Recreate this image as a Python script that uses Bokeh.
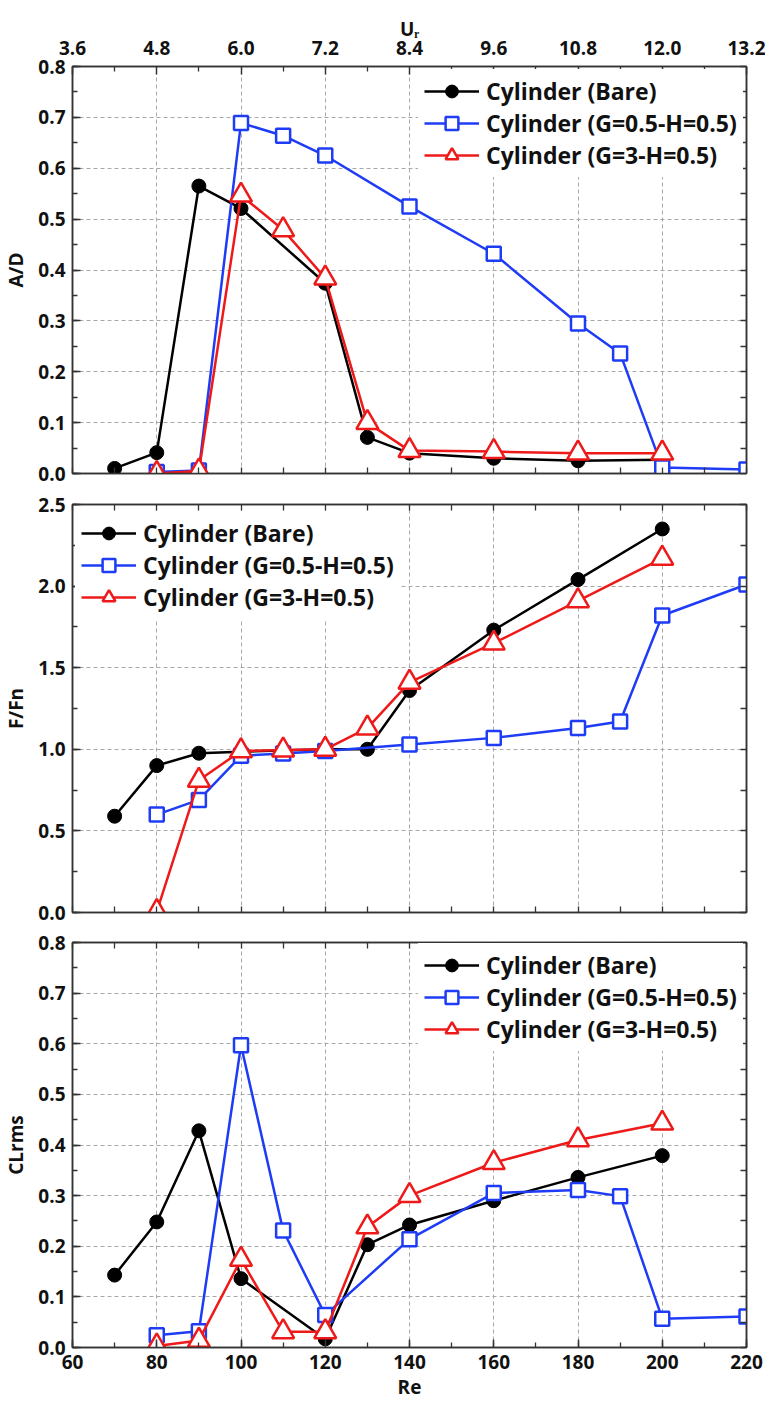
from bokeh.plotting import figure
from bokeh.layouts import column
from bokeh.models import (LinearAxis, Range1d, SingleIntervalTicker, FixedTicker,
                          PrintfTickFormatter, Legend, LegendItem)
from bokeh.embed import file_html
from bokeh.resources import INLINE

# ---------------- data ----------------
labels = ["Cylinder (Bare)", "Cylinder (G=0.5-H=0.5)", "Cylinder (G=3-H=0.5)"]

re_bare = [70, 80, 90, 100, 120, 130, 140, 160, 180, 200]
re_g05 = [80, 90, 100, 110, 120, 140, 160, 180, 190, 200, 220]
re_g3 = [80, 90, 100, 110, 120, 130, 140, 160, 180, 200]

ad_bare = [0.010, 0.041, 0.565, 0.521, 0.374, 0.071, 0.040, 0.030, 0.025, 0.027]
ad_g05 = [0.003, 0.006, 0.689, 0.664, 0.625, 0.525, 0.432, 0.295, 0.236, 0.012, 0.008]
ad_g3 = [0.000, 0.005, 0.547, 0.479, 0.384, 0.100, 0.045, 0.043, 0.040, 0.040]

ff_bare = [0.59, 0.90, 0.976, 0.985, 1.00, 1.00, 1.36, 1.73, 2.04, 2.35]
ff_g05 = [0.60, 0.69, 0.96, 0.975, 0.99, 1.03, 1.07, 1.13, 1.17, 1.82, 2.01]
ff_g3 = [0.005, 0.81, 0.99, 0.995, 1.00, 1.13, 1.41, 1.65, 1.91, 2.17]

cl_bare = [0.143, 0.248, 0.428, 0.136, 0.017, 0.203, 0.242, 0.290, 0.336, 0.379]
cl_g05 = [0.024, 0.032, 0.597, 0.231, 0.064, 0.214, 0.305, 0.311, 0.299, 0.057, 0.061]
cl_g3 = [0.003, 0.014, 0.174, 0.031, 0.031, 0.238, 0.300, 0.365, 0.410, 0.443]

ur_ticks = [3.6, 4.8, 6.0, 7.2, 8.4, 9.6, 10.8, 12.0, 13.2]

# ---------------- style ----------------
FONT = "Open Sans"
BLACK = "#000000"
BLUE = "#1e3cf5"
RED = "#ee1a1a"
AX = "#333333"
TICK_FS = "19px"
LEG_FS = "23px"
W = 765
X0, X1 = 60, 220


def style_axis(ax):
    ax.axis_line_color = AX
    ax.axis_line_width = 1.5
    ax.major_tick_line_color = AX
    ax.minor_tick_line_color = AX
    ax.major_tick_line_width = 1.5
    ax.minor_tick_line_width = 1.3
    ax.major_tick_in = 8
    ax.major_tick_out = 0
    ax.minor_tick_in = 5
    ax.minor_tick_out = 0
    ax.major_label_text_font = FONT
    ax.major_label_text_font_style = "bold"
    ax.major_label_text_font_size = TICK_FS
    ax.major_label_text_color = "#111111"
    ax.axis_label_text_font = FONT
    ax.axis_label_text_font_style = "bold"
    ax.axis_label_text_font_size = TICK_FS
    ax.axis_label_text_color = "#111111"


def mirror_axis(positions):
    # tick-only mirror axis (no labels): every position drawn as an inward tick
    ax = LinearAxis(ticker=FixedTicker(ticks=[], minor_ticks=positions))
    style_axis(ax)
    ax.minor_tick_in = 6
    ax.major_label_standoff = 0
    return ax


def panel(ylabel, y_end, y_step, ys, height, top, bottom, leg_xy, bottom_labels=False, ur_top=False):
    p = figure(width=W, height=height, x_range=Range1d(X0, X1), y_range=Range1d(0, y_end),
               output_backend="svg", toolbar_location=None,
               min_border_left=69, min_border_right=19,
               min_border_top=top, min_border_bottom=bottom)
    p.outline_line_color = AX
    p.outline_line_width = 1.5
    p.background_fill_color = "white"
    p.border_fill_color = "white"

    xt = SingleIntervalTicker(interval=20, num_minor_ticks=2)
    yt = SingleIntervalTicker(interval=y_step, num_minor_ticks=2)
    x_pos = [X0 + 10 * i for i in range(int((X1 - X0) / 10) + 1)]
    n_y = int(round(y_end / (y_step / 2)))
    y_pos = [round(i * y_step / 2, 4) for i in range(n_y + 1)]

    p.yaxis.ticker = yt
    p.yaxis.formatter = PrintfTickFormatter(format="%.1f")
    p.yaxis.axis_label = ylabel
    style_axis(p.yaxis[0])
    p.yaxis.major_label_standoff = 7
    p.yaxis.axis_label_standoff = 6

    if bottom_labels:
        p.xaxis.ticker = xt
        style_axis(p.xaxis[0])
        p.xaxis.axis_label = "Re"
        p.xaxis.major_label_standoff = 7
        p.xaxis.axis_label_standoff = 2
    else:
        p.xaxis.ticker = FixedTicker(ticks=[], minor_ticks=x_pos)
        style_axis(p.xaxis[0])
        p.xaxis.minor_tick_in = 6
        p.xaxis.major_label_standoff = 0

    p.xgrid.ticker = SingleIntervalTicker(interval=20)
    p.ygrid.ticker = SingleIntervalTicker(interval=y_step)
    p.grid.grid_line_color = "#a8a8a8"
    p.grid.grid_line_dash = "4 3"
    p.grid.grid_line_width = 1

    p.add_layout(mirror_axis(y_pos), "right")

    if ur_top:
        p.extra_x_ranges = {"ur": Range1d(ur_ticks[0], ur_ticks[-1])}
        minor = [(a + b) / 2 for a, b in zip(ur_ticks[:-1], ur_ticks[1:])]
        ta = LinearAxis(x_range_name="ur", ticker=FixedTicker(ticks=ur_ticks, minor_ticks=minor),
                        formatter=PrintfTickFormatter(format="%.1f"), axis_label="U\u1d63")
        style_axis(ta)
        ta.major_label_standoff = 12
        ta.axis_label_standoff = -4
        p.add_layout(ta, "above")
    else:
        p.add_layout(mirror_axis(x_pos), "above")

    series = [
        (re_bare, ys[0], BLACK, "circle", 14, BLACK),
        (re_g05, ys[1], BLUE, "square", 14, "white"),
        (re_g3, ys[2], RED, "triangle", 22, "white"),
    ]
    items = []
    for (xs, yv, col, mk, sz, fill), lab in zip(series, labels):
        rl = p.line(xs, yv, line_color=col, line_width=2.5)
        rs = p.scatter(xs, yv, marker=mk, size=sz, fill_color=fill, line_color=col,
                       line_width=2.5 if mk != "circle" else 1)
        items.append(LegendItem(label=lab, renderers=[rl, rs]))

    leg = Legend(items=items, location=leg_xy)
    leg.label_text_font = FONT
    leg.label_text_font_style = "bold"
    leg.label_text_font_size = LEG_FS
    leg.label_text_color = "#111111"
    leg.glyph_width = 55
    leg.glyph_height = 32
    leg.label_height = 32
    leg.spacing = 0
    leg.label_standoff = 7
    leg.padding = 6
    leg.margin = 0
    leg.border_line_alpha = 0
    leg.background_fill_color = "white"
    leg.background_fill_alpha = 1
    p.add_layout(leg)
    return p


p1 = panel("A/D", 0.8, 0.1, (ad_bare, ad_g05, ad_g3), 487, 66, 14, (346, 296), ur_top=True)
p2 = panel("F/Fn", 2.5, 0.5, (ff_bare, ff_g05, ff_g3), 439, 17, 14, (3, 293))
p3 = panel("CLrms", 0.8, 0.1, (cl_bare, cl_g05, cl_g3), 476, 16, 53, (346, 296), bottom_labels=True)

layout = column(p1, p2, p3, spacing=0)
open("out.html", "w").write(file_html(layout, INLINE))
